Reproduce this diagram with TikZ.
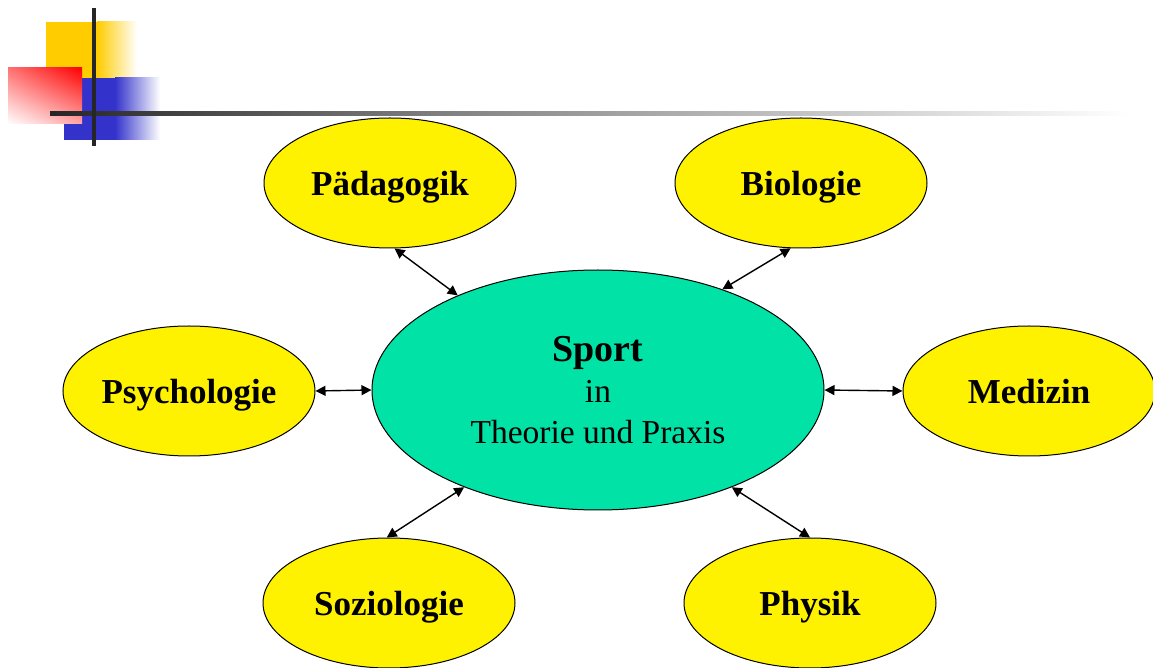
\documentclass[tikz,border=0pt]{standalone}
\usepackage{fontspec}
\setmainfont{Liberation Serif}
\usetikzlibrary{arrows.meta}
\usetikzlibrary{shapes.geometric}
\usetikzlibrary{shadings}
\definecolor{sportgreen}{RGB}{0,226,166}
\definecolor{decoyellow}{RGB}{255,204,0}
\definecolor{decoblue}{RGB}{51,51,204}
\tikzstyle{topic} = [ellipse, draw, line width = .5pt, fill = yellow, inner sep = 0pt, text depth = 0pt, minimum width = 126pt, minimum height = 65pt, font = \fontsize{17.5}{20}\selectfont\bfseries]
\tikzstyle{hub} = [ellipse, draw, line width = .5pt, fill = sportgreen, minimum width = 226pt, minimum height = 120pt, align = center, font = \fontsize{16.75}{20.5}\selectfont]
\tikzstyle{link} = [line width = .7pt, {Triangle[length = 5pt, width = 5pt]}-{Triangle[length = 5pt, width = 5pt]}]
\tikzstyle{slide picture} = [x = .5pt, y = -.5pt]

\begin{document}
\begin{tikzpicture}[slide picture]
        \useasboundingbox (0, 0) rectangle (1153, 668);

        % corner logo
        \fill [decoyellow] (46, 22) rectangle (97, 78);
        \shade [left color = decoyellow, right color = white] (97, 22) rectangle (137, 78);
        \fill [decoblue] (64, 78) rectangle (115, 140);
        \shade [left color = decoblue, right color = white] (115, 78) rectangle (160, 140);
        \shade [upper left = red!55, upper right = red, lower left = white, lower right = red!35]
            (8, 68) rectangle (82, 124);
        \shade [left color = black!85, right color = black!45] (50, 112) rectangle (500, 116);
        \shade [left color = black!45, right color = white] (500, 112) rectangle (1130, 116);
        \fill [black!85] (92, 8) rectangle (96, 146);

        % topics
        \node [hub] (sport) at (598, 390)
            {{\fontsize{19}{20.5}\selectfont\bfseries Sport}\\ in\\ Theorie und Praxis};
        \node [topic] (ped) at (390, 183) {Pädagogik};
        \node [topic] (bio) at (801, 183) {Biologie};
        \node [topic] (psy) at (189, 391) {Psychologie};
        \node [topic] (med) at (1029, 391) {Medizin};
        \node [topic] (soz) at (389, 603) {Soziologie};
        \node [topic] (phy) at (810, 603) {Physik};

        \foreach \from/\to in {ped.-86/sport.146, bio.-99/sport.39,
                               soz.92/sport.-144, phy.90/sport.-36,
                               psy.east/sport.west, med.west/sport.east}
        {
            \draw [link] (\from) -- (\to);
        }
    \end{tikzpicture}
\end{document}
